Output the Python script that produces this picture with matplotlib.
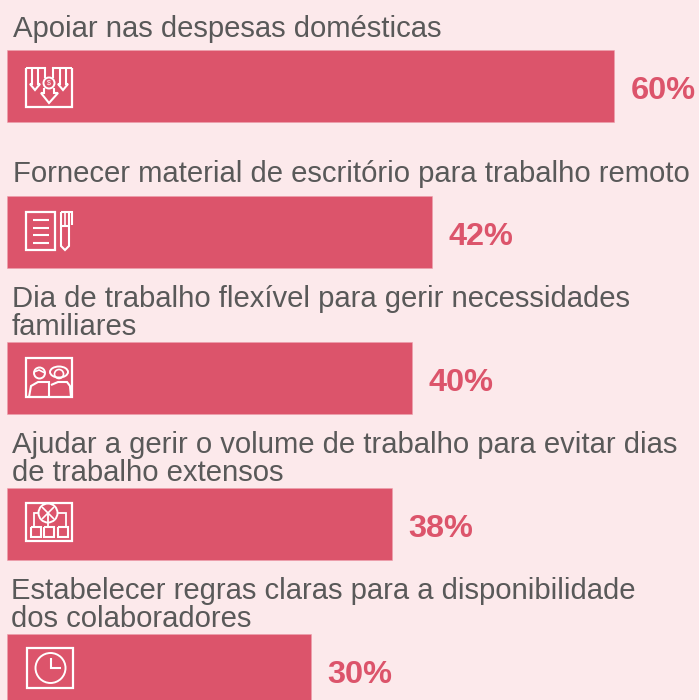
#!/usr/bin/env python
"""Horizontal bars of employer support measures, with white line icons."""
import matplotlib
matplotlib.use("Agg")
import matplotlib.pyplot as plt
from matplotlib.patches import Circle, Ellipse, Rectangle

labels = [
    "Apoiar nas despesas domésticas",
    "Fornecer material de escritório para trabalho remoto",
    "Dia de trabalho flexível para gerir necessidades\nfamiliares",
    "Ajudar a gerir o volume de trabalho para evitar dias\nde trabalho extensos",
    "Estabelecer regras claras para a disponibilidade\ndos colaboradores",
]
values = [60, 42, 40, 38, 30]

BG = "#FCE9EB"
BAR = "#DC546B"
GREY = "#595959"
W = "white"

plt.rcParams["font.family"] = ["Liberation Sans", "DejaVu Sans"]
fig = plt.figure(figsize=(6.99, 7.0), dpi=100, facecolor=BG)

# data axes: one percent is about 10.12 px, one row 146 px
ax = fig.add_axes([0, 0, 1, 1])
ax.set_facecolor(BG)
y = list(range(len(values)))
ax.barh(y, values, height=72.5 / 146, color=BAR, edgecolor="#EE9FAC", linewidth=0.4)
ax.set_xlim(-7 / 10.12, 692 / 10.12)
ax.set_ylim((700 - 86) / 146, -86 / 146)
ax.axis("off")

for i, v in enumerate(values):
    ax.annotate(f"{v}%", (v, i), xytext=(12.2, -3.4), textcoords="offset points",
                color=BAR, fontsize=23.4, fontweight="bold", va="center", ha="left")

# overlay in pixels for labels and icons
ov = fig.add_axes([0, 0, 1, 1])
ov.set_xlim(0, 699)
ov.set_ylim(700, 0)
ov.axis("off")
ov.patch.set_alpha(0)

label_pos = [(13, 29), (13, 174), (12, 313), (12, 459), (11, 605)]
for (lx, ly), txt in zip(label_pos, labels):
    ov.text(lx, ly, txt, color=GREY, fontsize=21.1, va="center", ha="left",
            linespacing=1.0)


def line(xs, ys, lw=1.5):
    ov.plot(xs, ys, color=W, lw=lw, solid_joinstyle="miter", solid_capstyle="butt")


def box(x0, y0, x1, y1, lw=1.6):
    ov.add_patch(Rectangle((x0, y0), x1 - x0, y1 - y0, fill=False, ec=W, lw=lw))


def circ(cx, cy, r, lw=1.4):
    ov.add_patch(Circle((cx, cy), r, fc="none", ec=W, lw=lw))


# icon 1: arrows and coin
line([26, 26, 72, 72], [68, 107, 107, 68], 1.6)
line([26, 45, 45], [68, 68, 78])
line([53, 53, 72], [78, 68, 68])
line([32, 32, 30, 35, 40, 38, 38], [68, 84, 84, 90, 84, 84, 68])
line([60, 60, 58, 63, 68, 66, 66], [68, 84, 84, 90, 84, 84, 68])
line([44, 44, 41, 49, 58, 54, 54], [88, 93, 93, 103, 93, 93, 88])
circ(49, 83, 5.5)
ov.text(49, 83.3, "$", color=W, fontsize=5, ha="center", va="center")

# icon 2: sheet and pen
box(26, 212, 55, 250)
for ly in [220, 228, 235, 243]:
    line([33, 49], [ly, ly])
line([61, 61, 65, 69, 69], [212, 246, 250, 246, 212])
line([61, 72, 72], [212, 212, 225])
line([61, 69], [226, 226])
line([65, 65], [212, 226], 1.2)

# icon 3: two people
box(26, 358, 72, 397)
circ(39.5, 373, 5.5)
line([34, 39, 45], [372, 370, 373], 1.2)
ov.add_patch(Ellipse((59, 372), 18, 11, fc="none", ec=W, lw=1.4))
circ(59, 374, 4.5, 1.2)
line([29, 31, 38, 49, 49], [397, 386, 382, 382, 397])
line([51, 58, 67, 70, 71], [385, 382, 382, 386, 397])

# icon 4: chart and three sheets
box(26, 503, 72, 541)
circ(48, 513, 9.5)
line([42, 54], [507, 519], 1.2)
line([54, 42], [507, 519], 1.2)
line([38, 34, 34], [513, 513, 526], 1.3)
line([58, 66, 66], [513, 513, 526], 1.3)
line([48, 48], [513, 526], 1.3)
for sx in [31, 44, 58]:
    line([sx, sx, sx + 10, sx + 10, sx], [527, 537, 537, 527, 527])

# icon 5: clock
box(27, 648, 73, 688)
ov.add_patch(Ellipse((50.5, 668), 30, 30, fc="none", ec=W, lw=1.4))
line([50.5, 50.5, 61], [658, 668, 668])

fig.savefig("out.png", dpi=100, facecolor=BG)
